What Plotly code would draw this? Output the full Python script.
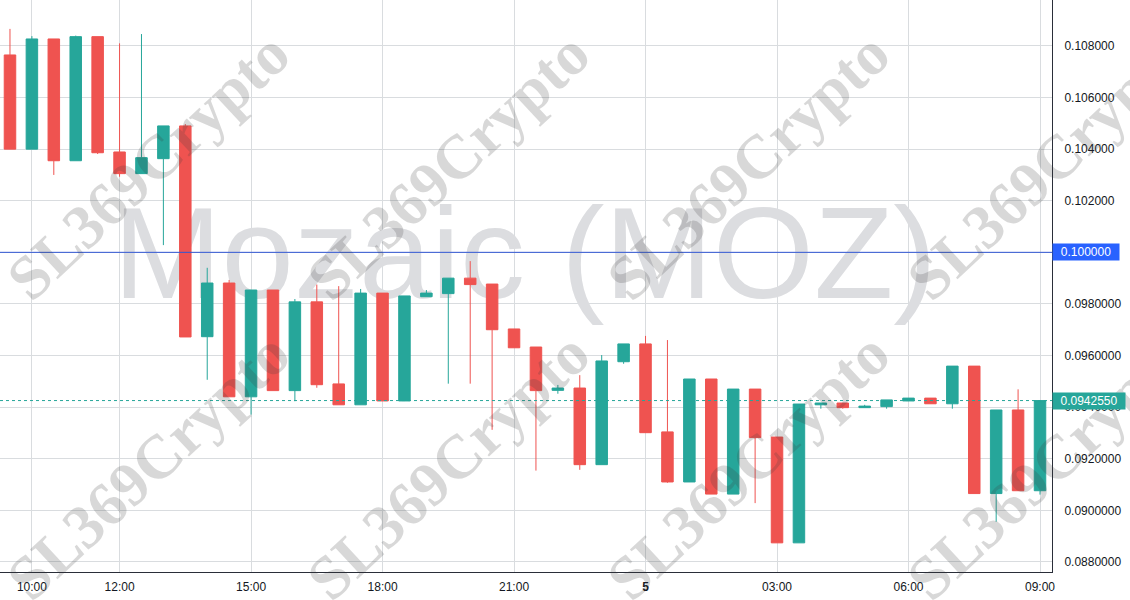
import pandas as pd
import plotly.graph_objects as go

# ---- data (30-minute candles) ----
times = pd.date_range("2024-03-04 09:30", periods=48, freq="30min")

opens = [0.10765, 0.10400, 0.10827, 0.10355, 0.10836, 0.10389, 0.10305, 0.10363,
         0.10490, 0.09673, 0.09881, 0.09440, 0.09854, 0.09464, 0.09808, 0.09490,
         0.09409, 0.09842, 0.09424, 0.09828, 0.09840, 0.09900, 0.09877, 0.09703,
         0.09633, 0.09465, 0.09474, 0.09177, 0.09576, 0.09645, 0.09304, 0.09110,
         0.09509, 0.09063, 0.09470, 0.09284, 0.08874, 0.09409, 0.09416, 0.09398,
         0.09402, 0.09424, 0.09435, 0.09413, 0.09559, 0.09065, 0.09389, 0.09076]
highs = [0.10866, 0.10838, 0.10827, 0.10840, 0.10836, 0.10810, 0.10846, 0.10490,
         0.10497, 0.09940, 0.09893, 0.09854, 0.09854, 0.09819, 0.09875, 0.09869,
         0.09858, 0.09842, 0.09831, 0.09854, 0.09900, 0.09966, 0.09877, 0.09703,
         0.09633, 0.09486, 0.09524, 0.09602, 0.09645, 0.09676, 0.09660, 0.09509,
         0.09509, 0.09470, 0.09470, 0.09284, 0.09412, 0.09416, 0.09416, 0.09409,
         0.09428, 0.09435, 0.09435, 0.09559, 0.09559, 0.09389, 0.09469, 0.09426]
lows = [0.10400, 0.10400, 0.10300, 0.10355, 0.10381, 0.10293, 0.10305, 0.10028,
        0.09672, 0.09506, 0.09440, 0.09371, 0.09464, 0.09423, 0.09475, 0.09409,
        0.09409, 0.09424, 0.09424, 0.09828, 0.09491, 0.09491, 0.09312, 0.09630,
        0.09154, 0.09452, 0.09157, 0.09177, 0.09568, 0.09301, 0.09107, 0.09110,
        0.09063, 0.09063, 0.09028, 0.08874, 0.08874, 0.09394, 0.09394, 0.09398,
        0.09394, 0.09424, 0.09413, 0.09394, 0.09065, 0.08956, 0.09076, 0.09061]
closes = [0.10400, 0.10827, 0.10355, 0.10836, 0.10386, 0.10305, 0.10367, 0.10490,
          0.09672, 0.09881, 0.09440, 0.09854, 0.09464, 0.09808, 0.09487, 0.09409,
          0.09842, 0.09424, 0.09831, 0.09842, 0.09900, 0.09875, 0.09700, 0.09630,
          0.09464, 0.09474, 0.09177, 0.09579, 0.09645, 0.09301, 0.09110, 0.09509,
          0.09063, 0.09470, 0.09282, 0.08874, 0.09412, 0.09416, 0.09398, 0.09404,
          0.09428, 0.09435, 0.09413, 0.09559, 0.09065, 0.09389, 0.09076, 0.094255]

last_price = 0.094255
ref_price = 0.100000

y_ticks = [0.088, 0.090, 0.092, 0.094, 0.096, 0.098, 0.100, 0.102, 0.104, 0.106, 0.108]
y_ticktext = [f"{v:.6f}" if v >= 0.1 - 1e-12 else f"{v:.7f}" for v in y_ticks]

x_tickvals = ["2024-03-04 10:00", "2024-03-04 12:00", "2024-03-04 15:00", "2024-03-04 18:00",
              "2024-03-04 21:00", "2024-03-05 00:00", "2024-03-05 03:00", "2024-03-05 06:00",
              "2024-03-05 09:00"]
x_ticktext = ["10:00", "12:00", "15:00", "18:00", "21:00", "<b>5</b>", "03:00", "06:00", "09:00"]

title_watermark = "Mozaic (MOZ)"
brand_watermark = "SL369Crypto"

UP = "#26a69a"
DOWN = "#ef5350"
GRID = "#d9dcdf"
AXIS = "#2a2e39"
TXT = "#131722"

fig = go.Figure()

# big watermark on base axes (drawn below the candles)
fig.add_trace(go.Scatter(
    x=[0.499], y=[0.535], mode="text", text=[title_watermark],
    textfont=dict(family="Liberation Sans, Arial", size=130, color="#dcdde0"),
    textposition="middle center", hoverinfo="skip", showlegend=False,
    xaxis="x", yaxis="y"))

fig.add_trace(go.Candlestick(
    x=times, open=opens, high=highs, low=lows, close=closes,
    increasing=dict(line=dict(color=UP, width=1), fillcolor=UP),
    decreasing=dict(line=dict(color=DOWN, width=1), fillcolor=DOWN),
    whiskerwidth=0, hoverinfo="skip", showlegend=False,
    xaxis="x2", yaxis="y2"))

fig.update_layout(
    width=1130, height=600,
    margin=dict(l=0, r=78, t=0, b=28),
    paper_bgcolor="white", plot_bgcolor="white",
    boxgap=0.25,
    showlegend=False,
    xaxis=dict(visible=False, range=[0, 1], fixedrange=True),
    yaxis=dict(visible=False, range=[0, 1], fixedrange=True),
    xaxis2=dict(
        overlaying="x", anchor="y2", type="date",
        range=["2024-03-04 09:16:20", "2024-03-05 09:16:25"],
        rangeslider=dict(visible=False),
        tickvals=x_tickvals, ticktext=x_ticktext, tickangle=0,
        showgrid=True, gridcolor=GRID, gridwidth=1,
        showline=True, linecolor=AXIS, linewidth=1,
        ticks="", ticklabelstandoff=4,
        tickfont=dict(family="Liberation Sans, Arial", size=12, color=TXT),
        zeroline=False),
    yaxis2=dict(
        overlaying="y", anchor="x2", side="right",
        range=[0.08761, 0.10978],
        tickvals=y_ticks, ticktext=y_ticktext,
        showgrid=True, gridcolor=GRID, gridwidth=1,
        showline=True, linecolor=AXIS, linewidth=1,
        ticks="", ticklabelstandoff=9,
        tickfont=dict(family="Liberation Sans, Arial", size=12, color=TXT),
        zeroline=False),
)

# reference line at 0.1 and last price dotted line
fig.add_shape(type="line", xref="paper", yref="y2", x0=0, x1=1, y0=ref_price, y1=ref_price,
              line=dict(color="#3056d3", width=1), layer="above")
fig.add_shape(type="line", xref="paper", yref="y2", x0=0, x1=1, y0=last_price, y1=last_price,
              line=dict(color=UP, width=1, dash="dot"), layer="above")

# brand watermarks
for cx in [148, 448, 748, 1048]:
    for cy in [166, 466]:
        fig.add_annotation(
            xref="paper", yref="paper",
            x=cx / 1052, y=1 - cy / 572,
            text=brand_watermark, showarrow=False, textangle=-43,
            xanchor="center", yanchor="middle",
            font=dict(family="Liberation Serif, Times New Roman", size=62,
                      color="rgba(60,60,60,0.20)", weight="bold"))

# price labels on the axis
fig.add_annotation(xref="paper", yref="y2", x=1, y=ref_price, xanchor="left", yanchor="middle",
                   text=f"{ref_price:.6f}", showarrow=False, bgcolor="#2962ff",
                   width=66, height=16, borderpad=0, align="center",
                   font=dict(family="Liberation Sans, Arial", size=12, color="white"))
fig.add_annotation(xref="paper", yref="y2", x=1, y=last_price, xanchor="left", yanchor="middle",
                   text=f"{last_price:.7f}", showarrow=False, bgcolor=UP,
                   width=72, height=16, borderpad=0, align="center",
                   font=dict(family="Liberation Sans, Arial", size=12, color="white"))

fig.write_html("out.html", config={"displayModeBar": False},
               post_script="document.body.style.margin='0';document.body.style.overflow='hidden';")
